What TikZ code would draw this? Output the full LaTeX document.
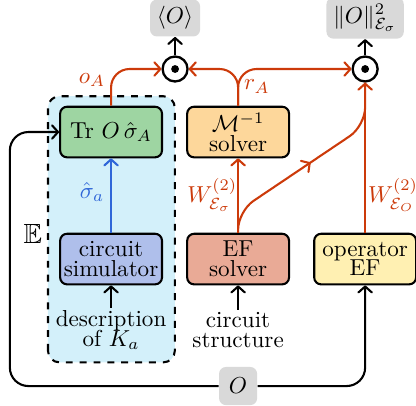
\documentclass[tikz,border=0pt]{standalone}
\usepackage{amsmath}
\usepackage{amssymb}
\usepackage{tikz}
\usetikzlibrary{arrows.meta}
\usetikzlibrary{decorations.markings}
\definecolor{rust}{HTML}{CC3A0A}
\definecolor{royal}{HTML}{2F66D8}
\definecolor{paleteal}{HTML}{D3F0FA}
\definecolor{mintfill}{HTML}{9ED5A2}
\definecolor{lavfill}{HTML}{AFBFEB}
\definecolor{peachfill}{HTML}{FDD79B}
\definecolor{salmonfill}{HTML}{E9AA96}
\definecolor{creamfill}{HTML}{FFF0B2}
\definecolor{greyfill}{HTML}{D9D9D9}

\tikzset{
  >={Straight Barb[length=2.6pt,width=5.8pt,round]},
  block/.style={draw, line width=0.9pt, rounded corners=3pt, align=center,
    minimum width=1.55cm, minimum height=0.77cm, inner sep=1pt},
  greybox/.style={fill=greyfill, rounded corners=3pt, inner sep=3pt,
    minimum height=0.56cm},
  odot/.style={draw, circle, line width=1pt, minimum size=0.38cm, inner sep=0pt},
  wire/.style={->, line width=0.9pt},
  redwire/.style={wire, draw=rust},
  midarrow/.style={postaction={decorate}, decoration={markings,
    mark=at position 0.5 with {\arrow{>}}}}
}

\begin{document}
\begin{tikzpicture}[scale=1.0]
           \useasboundingbox (0,0) rectangle (6.33,6.164);

           % Expectation box
           \filldraw[fill=paleteal, dashed, line width=0.9pt, rounded corners=5pt]
           (0.73,0.65) rectangle (2.66,4.70);
           \node[font=\large] (expect) at (0.50,2.60) {$\mathbb{E}$};

           % Outputs
           \node[greybox] (mean) at (2.664,5.89) {$\langle O\rangle$};
           \node[greybox] (norm) at (5.556,5.89) {$\|O\|^2_{\mathcal{E}_\sigma}$};
           \node[odot] (dot1) at (2.664,5.114) {};
           \node[odot] (dot2) at (5.556,5.114) {};
           \fill (dot1.center) circle (1.7pt);
           \fill (dot2.center) circle (1.7pt);

           % Blocks
           \node[block, fill=mintfill] (trace) at (1.690,4.155) {Tr $O\,\hat{\sigma}_A$};
           \node[block, fill=lavfill] (sim) at (1.690,2.222) {circuit\\[-3.5pt]simulator};
           \node[block, fill=peachfill] (minv) at (3.623,4.155) {$\mathcal{M}^{-1}$\\[-3.5pt]solver};
           \node[block, fill=salmonfill] (efsolve) at (3.623,2.222) {EF\\[-3.5pt]solver};
           \node[block, fill=creamfill] (opef) at (5.556,2.222) {operator\\[-3.5pt]EF};

           % Inputs
           \node[align=center, inner sep=1pt] (descr) at (1.690,1.14) {description\\[-3.5pt]of $K_a$};
           \node[align=center, inner sep=1pt] (struct) at (3.623,1.14) {circuit\\[-3.5pt]structure};
           \node[greybox, minimum width=0.58cm, minimum height=0.58cm] (obs) at (3.623,0.29) {$O$};

           % helper points
           \coordinate (loopcorner) at (0.15,0.29);
           \coordinate (split) at (3.623,2.95);
           \coordinate (merge) at (5.556,4.25);

           % black connectors
           \draw[wire] (dot1) -- (mean);
           \draw[wire] (dot2) -- (norm);
           \draw[wire] (descr) -- (sim);
           \draw[wire] (struct) -- (efsolve);
           \draw[wire, rounded corners=8pt] (obs.west) -- (loopcorner) |- (trace.west);
           \draw[wire, rounded corners=8pt] (obs.east) -| (opef.south);

           % blue connector
           \draw[wire, draw=royal] (sim) -- (trace);
           \node[text=royal] (sigmalabel) at (1.40,3.24) {$\hat{\sigma}_a$};

           % red connectors
           \draw[redwire, rounded corners=8pt] (trace.north) |- (dot1.west);
           \draw[redwire, rounded corners=8pt] (minv.north) |- (dot1.east);
           \draw[redwire, rounded corners=8pt] (minv.north) |- (dot2.west);
           \draw[redwire] (efsolve) -- (minv);
           \draw[line width=0.9pt, draw=rust, rounded corners=8pt, midarrow]
           (efsolve.north) -- (split) -- (merge) -- (dot2.south);
           \draw[redwire] (opef) -- (dot2);
           \node[text=rust] (oalabel) at (1.40,4.95) {$o_A$};
           \node[text=rust] (ralabel) at (3.91,4.85) {$r_A$};
           \node[text=rust] (wsigma) at (3.23,3.20) {$W^{(2)}_{\mathcal{E}_\sigma}$};
           \node[text=rust] (wop) at (5.98,3.20) {$W^{(2)}_{\mathcal{E}_O}$};

\end{tikzpicture}
\end{document}
